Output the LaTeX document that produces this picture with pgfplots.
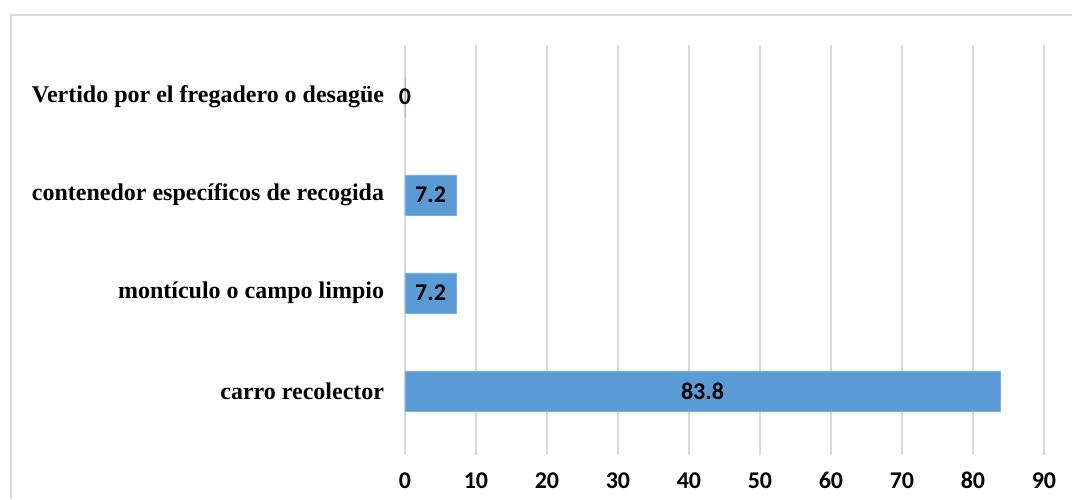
\documentclass[border=0pt]{standalone}
\usepackage{fontspec}
\setmainfont{Liberation Serif}
\newfontfamily\calib{Carlito}
\usepackage{pgfplots}
\pgfplotsset{compat=1.18}
\definecolor{barblue}{HTML}{5B9BD5}
\definecolor{gridgray}{HTML}{D9D9D9}

\begin{document}
\begin{tikzpicture}
% picture frame: 1px = 0.5pt, origin at the axis' lower left corner
\path[use as bounding box] (-202.5pt,-22pt) rectangle (333.5pt,227.5pt);
\draw[gridgray, line width=0.75pt] (-197pt,-22pt) -- (-197pt,220pt) -- (333.5pt,220pt);
\begin{axis}[
    at={(0pt,0pt)}, anchor=south west,
    scale only axis, width=319.5pt, height=205pt,
    xbar, bar width=20pt,
    xmin=0, xmax=90, ymin=-0.653, ymax=3.53,
    enlargelimits=false,
    xtick={0,10,...,90},
    ytick={0,1,2,3},
    yticklabels={carro recolector, montículo o campo limpio,
                 contenedor específicos de recogida, Vertido por el fregadero o desagüe},
    xmajorgrids, grid style={gridgray, line width=0.75pt},
    axis line style={draw=none},
    tick style={draw=none},
    /pgf/number format/assume math mode=true,
    xticklabel style={font=\calib\bfseries\fontsize{12}{14}\selectfont, anchor=base, yshift=-16.5pt, inner sep=0pt},
    yticklabel style={font=\bfseries\fontsize{12}{14}\selectfont, anchor=east, inner sep=0pt, xshift=-6pt},
    visualization depends on={rawx \as \rawx},
    nodes near coords,
    nodes near coords style={font=\calib\bfseries\fontsize{12}{14}\selectfont, text=black,
        anchor=center, xshift={-1.775pt*\rawx}},
]
\addplot[fill=barblue, draw=barblue!80!white, line width=0.4pt] coordinates {
    (83.8,0) (7.2,1) (7.2,2) (0,3)
};
\end{axis}
\end{tikzpicture}
\end{document}
